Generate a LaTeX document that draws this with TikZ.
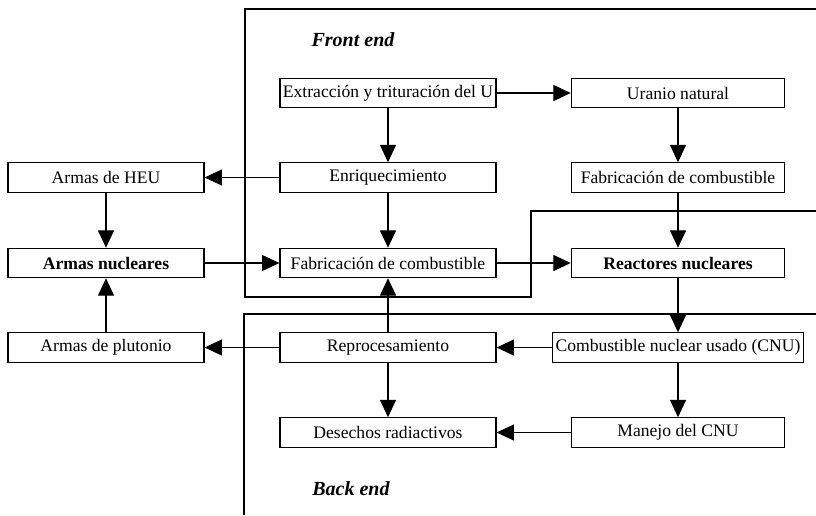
\documentclass[tikz,border=0pt]{standalone}
\usepackage{fontspec}
\setmainfont{Liberation Serif}
\usepackage{tikz}
\usetikzlibrary{arrows.meta}

\begin{document}
\begin{tikzpicture}[
    x=0.75pt, y=-0.75pt,
    box/.style     = {draw, line width=0.9pt, minimum height=22pt, inner sep=0pt,
                      font=\fontsize{13.2}{15}\selectfont},
    wide/.style    = {box, minimum width=162pt},
    side/.style    = {box, minimum width=160pt},
    weap/.style    = {box, minimum width=147pt},
    strongbox/.style = {font=\fontsize{13.2}{15}\selectfont\bfseries},
    arr/.style     = {-{Triangle[length=13pt,width=12pt]}, line width=0.8pt},
    frame/.style   = {line width=0.8pt},
    stage/.style   = {font=\fontsize{15}{18}\selectfont\bfseries\itshape},
]
\useasboundingbox (0,0) rectangle (816,515);

% --- front end / back end frames ---
\draw[frame] (816,9) -- (245,9) -- (245,297) -- (531,297) -- (531,211) -- (816,211);
\draw[frame] (816,314) -- (244,314) -- (244,515);

\node[stage] (fe) at (353,40)  {Front end};
\node[stage] (be) at (351,489) {Back end};

% --- nodes: weapons column (left), fuel cycle (middle, right) ---
\node[wide] (ext)  at (388,93)    {Extracción y trituración del U};
\node[side] (ura)  at (678,93)    {Uranio natural};

\node[weap] (heu)  at (106,177.5) {Armas de HEU};
\node[wide] (enr)  at (388,177.5) {Enriquecimiento};
\node[side] (fabR) at (678,177.5) {Fabricación de combustible};

\node[weap, strongbox] (nuc)  at (106,263) {Armas nucleares};
\node[wide] (fabM) at (388,263)   {Fabricación de combustible};
\node[side, strongbox] (rea)  at (678,263) {Reactores nucleares};

\node[weap] (plu)  at (106,347.5) {Armas de plutonio};
\node[wide] (rep)  at (388,347.5) {Reprocesamiento};
\node[box, minimum width=188pt] (cnu) at (678,347.5) {Combustible nuclear usado (CNU)};

\node[wide] (des)  at (388,432.5) {Desechos radiactivos};
\node[side] (man)  at (678,432.5) {Manejo del CNU};

% --- front end flow ---
\draw[arr] (ext) -- (ura);
\draw[arr] (ext) -- (enr);
\draw[arr] (ura) -- (fabR);
\draw[arr] (enr) -- (heu);
\draw[arr] (enr) -- (fabM);
\draw[arr] (fabR) -- (rea);
\draw[arr] (fabM) -- (rea);

% --- weapons ---
\draw[arr] (heu) -- (nuc);
\draw[arr] (nuc) -- (fabM);
\draw[arr] (plu) -- (nuc);

% --- back end flow ---
\draw[arr] (rea) -- (cnu);
\draw[arr] (cnu) -- (rep);
\draw[arr] (rep) -- (fabM);
\draw[arr] (rep) -- (plu);
\draw[arr] (rep) -- (des);
\draw[arr] (cnu) -- (man);
\draw[arr] (man) -- (des);

\end{tikzpicture}
\end{document}
